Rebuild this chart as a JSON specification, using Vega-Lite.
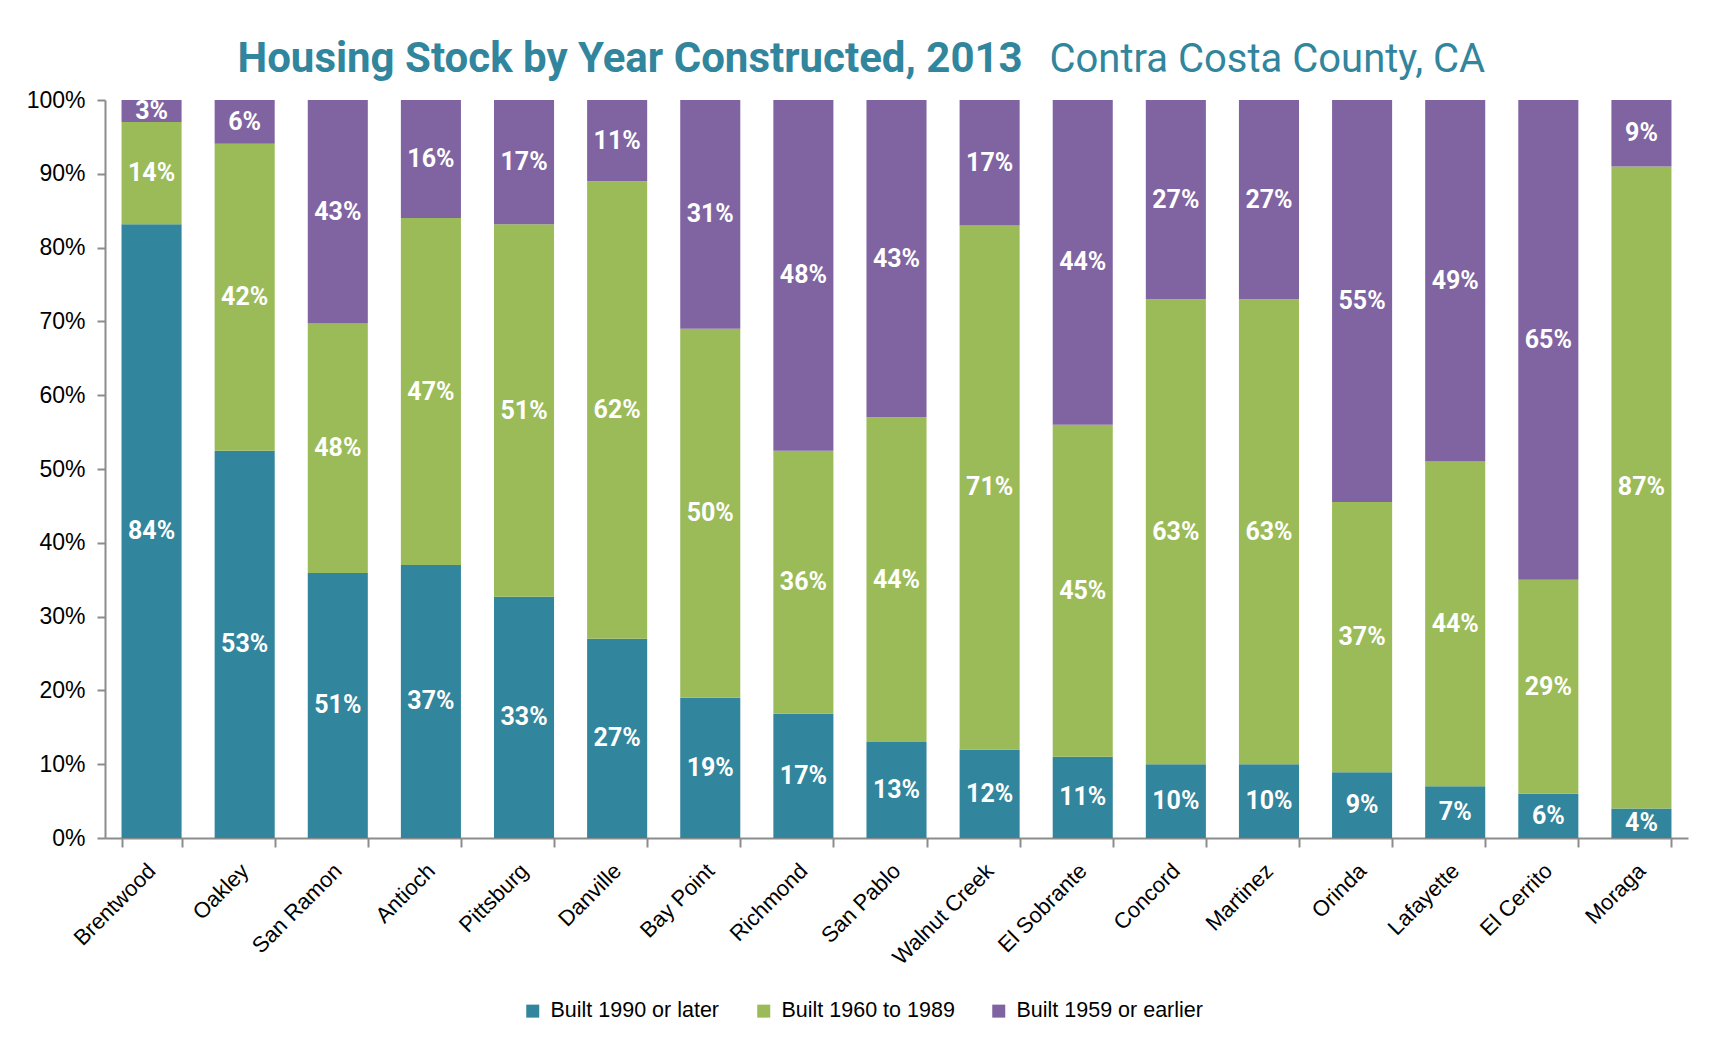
{
  "$schema": "https://vega.github.io/schema/vega-lite/v6.json",
  "width": 1583,
  "height": 738,
  "autosize": {"type": "none"},
  "padding": {"left": 105, "top": 100, "right": 25, "bottom": 210},
  "background": "white",
  "data": {
    "values": [
      {"city": "Brentwood", "period": "Built 1990 or later", "o": 1, "v": 0.84},
      {"city": "Brentwood", "period": "Built 1960 to 1989", "o": 2, "v": 0.14},
      {"city": "Brentwood", "period": "Built 1959 or earlier", "o": 3, "v": 0.03},
      {"city": "Oakley", "period": "Built 1990 or later", "o": 1, "v": 0.53},
      {"city": "Oakley", "period": "Built 1960 to 1989", "o": 2, "v": 0.42},
      {"city": "Oakley", "period": "Built 1959 or earlier", "o": 3, "v": 0.06},
      {"city": "San Ramon", "period": "Built 1990 or later", "o": 1, "v": 0.51},
      {"city": "San Ramon", "period": "Built 1960 to 1989", "o": 2, "v": 0.48},
      {"city": "San Ramon", "period": "Built 1959 or earlier", "o": 3, "v": 0.43},
      {"city": "Antioch", "period": "Built 1990 or later", "o": 1, "v": 0.37},
      {"city": "Antioch", "period": "Built 1960 to 1989", "o": 2, "v": 0.47},
      {"city": "Antioch", "period": "Built 1959 or earlier", "o": 3, "v": 0.16},
      {"city": "Pittsburg", "period": "Built 1990 or later", "o": 1, "v": 0.33},
      {"city": "Pittsburg", "period": "Built 1960 to 1989", "o": 2, "v": 0.51},
      {"city": "Pittsburg", "period": "Built 1959 or earlier", "o": 3, "v": 0.17},
      {"city": "Danville", "period": "Built 1990 or later", "o": 1, "v": 0.27},
      {"city": "Danville", "period": "Built 1960 to 1989", "o": 2, "v": 0.62},
      {"city": "Danville", "period": "Built 1959 or earlier", "o": 3, "v": 0.11},
      {"city": "Bay Point", "period": "Built 1990 or later", "o": 1, "v": 0.19},
      {"city": "Bay Point", "period": "Built 1960 to 1989", "o": 2, "v": 0.50},
      {"city": "Bay Point", "period": "Built 1959 or earlier", "o": 3, "v": 0.31},
      {"city": "Richmond", "period": "Built 1990 or later", "o": 1, "v": 0.17},
      {"city": "Richmond", "period": "Built 1960 to 1989", "o": 2, "v": 0.36},
      {"city": "Richmond", "period": "Built 1959 or earlier", "o": 3, "v": 0.48},
      {"city": "San Pablo", "period": "Built 1990 or later", "o": 1, "v": 0.13},
      {"city": "San Pablo", "period": "Built 1960 to 1989", "o": 2, "v": 0.44},
      {"city": "San Pablo", "period": "Built 1959 or earlier", "o": 3, "v": 0.43},
      {"city": "Walnut Creek", "period": "Built 1990 or later", "o": 1, "v": 0.12},
      {"city": "Walnut Creek", "period": "Built 1960 to 1989", "o": 2, "v": 0.71},
      {"city": "Walnut Creek", "period": "Built 1959 or earlier", "o": 3, "v": 0.17},
      {"city": "El Sobrante", "period": "Built 1990 or later", "o": 1, "v": 0.11},
      {"city": "El Sobrante", "period": "Built 1960 to 1989", "o": 2, "v": 0.45},
      {"city": "El Sobrante", "period": "Built 1959 or earlier", "o": 3, "v": 0.44},
      {"city": "Concord", "period": "Built 1990 or later", "o": 1, "v": 0.10},
      {"city": "Concord", "period": "Built 1960 to 1989", "o": 2, "v": 0.63},
      {"city": "Concord", "period": "Built 1959 or earlier", "o": 3, "v": 0.27},
      {"city": "Martinez", "period": "Built 1990 or later", "o": 1, "v": 0.10},
      {"city": "Martinez", "period": "Built 1960 to 1989", "o": 2, "v": 0.63},
      {"city": "Martinez", "period": "Built 1959 or earlier", "o": 3, "v": 0.27},
      {"city": "Orinda", "period": "Built 1990 or later", "o": 1, "v": 0.09},
      {"city": "Orinda", "period": "Built 1960 to 1989", "o": 2, "v": 0.37},
      {"city": "Orinda", "period": "Built 1959 or earlier", "o": 3, "v": 0.55},
      {"city": "Lafayette", "period": "Built 1990 or later", "o": 1, "v": 0.07},
      {"city": "Lafayette", "period": "Built 1960 to 1989", "o": 2, "v": 0.44},
      {"city": "Lafayette", "period": "Built 1959 or earlier", "o": 3, "v": 0.49},
      {"city": "El Cerrito", "period": "Built 1990 or later", "o": 1, "v": 0.06},
      {"city": "El Cerrito", "period": "Built 1960 to 1989", "o": 2, "v": 0.29},
      {"city": "El Cerrito", "period": "Built 1959 or earlier", "o": 3, "v": 0.65},
      {"city": "Moraga", "period": "Built 1990 or later", "o": 1, "v": 0.04},
      {"city": "Moraga", "period": "Built 1960 to 1989", "o": 2, "v": 0.87},
      {"city": "Moraga", "period": "Built 1959 or earlier", "o": 3, "v": 0.09}
    ]
  },
  "encoding": {
    "x": {
      "field": "city",
      "type": "nominal",
      "sort": null,
      "scale": {"paddingInner": 0.355, "paddingOuter": 0.1775},
      "axis": {
        "title": "Housing Stock by Year Constructed, 2013",
        "titleAngle": 0,
        "titleAlign": "left",
        "titleBaseline": "alphabetic",
        "titleX": 132,
        "titleY": -767,
        "titleFont": "Roboto",
        "titleFontSize": 42,
        "titleFontWeight": "bold",
        "titleColor": "#31859C",
        "labelAngle": -45,
        "labelAlign": "right",
        "labelBaseline": "middle",
        "labelFont": "Liberation Sans",
        "labelFontSize": 22,
        "labelColor": "#000000",
        "tickBand": "extent",
        "tickSize": 9,
        "tickWidth": 2,
        "tickColor": "#8c8c8c",
        "domainColor": "#8c8c8c",
        "domainWidth": 2,
        "labelPadding": 20
      }
    }
  },
  "layer": [
    {
      "mark": {"type": "bar"},
      "encoding": {
        "y": {
          "field": "v",
          "type": "quantitative",
          "stack": "normalize",
          "scale": {"domain": [0, 1]},
          "axis": {
            "title": "Contra Costa County, CA",
            "titleAngle": 0,
            "titleAlign": "left",
            "titleBaseline": "alphabetic",
            "titleX": 944,
            "titleY": -29,
            "titleFont": "Roboto",
            "titleFontSize": 40,
            "titleFontWeight": "normal",
            "titleColor": "#31859C",
            "format": ".0%",
            "values": [0, 0.1, 0.2, 0.3, 0.4, 0.5, 0.6, 0.7, 0.8, 0.9, 1],
            "grid": false,
            "labelFont": "Liberation Sans",
            "labelFontSize": 23,
            "labelColor": "#000000",
            "tickSize": 8,
            "tickWidth": 2,
            "tickColor": "#8c8c8c",
            "domainColor": "#8c8c8c",
            "domainWidth": 2,
            "labelPadding": 12
          }
        },
        "color": {
          "field": "period",
          "type": "nominal",
          "sort": ["Built 1990 or later", "Built 1960 to 1989", "Built 1959 or earlier"],
          "scale": {
            "domain": ["Built 1990 or later", "Built 1960 to 1989", "Built 1959 or earlier"],
            "range": ["#31859C", "#9BBB59", "#8064A2"]
          },
          "legend": {
            "title": null,
            "orient": "none",
            "direction": "horizontal",
            "legendX": 417,
            "legendY": 900,
            "symbolType": "square",
            "symbolSize": 169,
            "symbolStrokeWidth": 0,
            "labelFont": "Liberation Sans",
            "labelFontSize": 21.5,
            "labelColor": "#000000",
            "labelOffset": 7,
            "labelLimit": 400,
            "columnPadding": 33
          }
        },
        "order": {"field": "o", "type": "quantitative"}
      }
    },
    {
      "mark": {
        "type": "text",
        "color": "white",
        "font": "Roboto",
        "fontWeight": "bold",
        "fontSize": 25,
        "baseline": "middle"
      },
      "encoding": {
        "y": {
          "field": "v",
          "type": "quantitative",
          "stack": "normalize",
          "bandPosition": 0.5
        },
        "detail": {"field": "period"},
        "order": {"field": "o", "type": "quantitative"},
        "text": {"field": "v", "type": "quantitative", "format": ".0%"}
      }
    }
  ],
  "config": {"view": {"stroke": null}}
}
